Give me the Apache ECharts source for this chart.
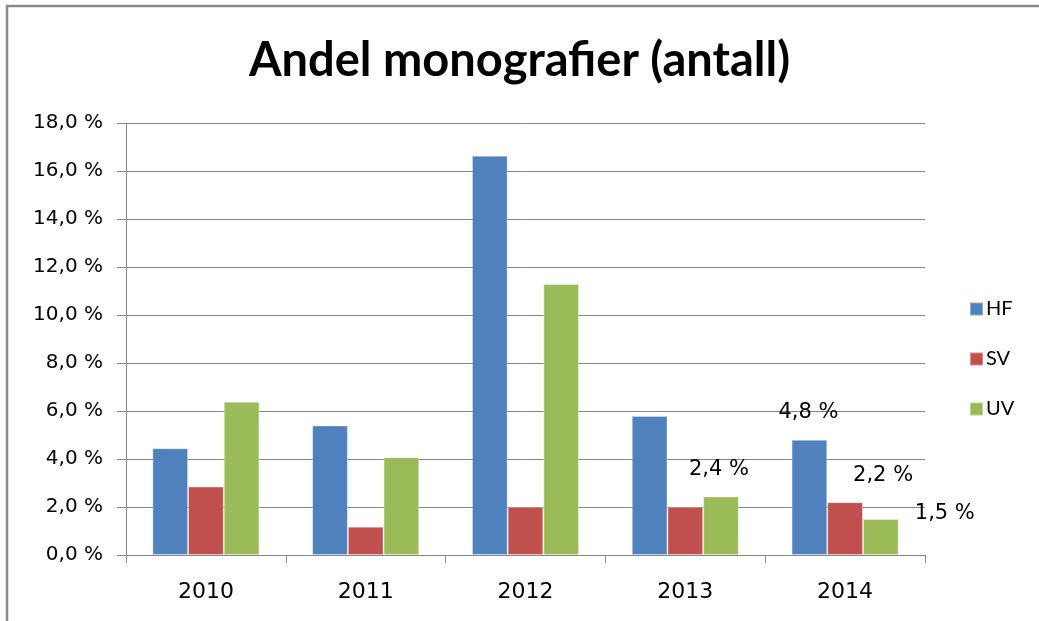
<!DOCTYPE html>
<html>
<head>
<meta charset="utf-8">
<script src="https://cdn.jsdelivr.net/npm/echarts@6/dist/echarts.min.js"></script>
<style>html,body{margin:0;padding:0;background:#fff;}#c{width:1039px;height:621px;}</style>
</head>
<body>
<div id="c"></div>
<script>
var categories = ['2010', '2011', '2012', '2013', '2014'];
var hf = [4.45, 5.40, 16.64, 5.79, 4.8];
var sv = [2.85, 1.18, 2.01, 2.01, 2.2];
var uv = [6.39, 4.07, 11.29, 2.44, 1.5];
var seriesNames = ['HF', 'SV', 'UV'];
var yTicks = { min: 0, max: 18, interval: 2 };

// which bars carry a data label (series name -> category index -> label offset)
var labelPlacement = {
  HF: { 4: [-1, -12] },
  SV: { 4: [38, -11] },
  UV: { 3: [-2, -11], 4: [64, 10] }
};

var colors = { HF: '#4F81BD', SV: '#C0504D', UV: '#9BBB59' };
var numFont = 'DejaVu Sans';
function fmt(v) { return v.toFixed(1).replace('.', ',') + ' %'; }

function buildData(name, values) {
  return values.map(function (v, i) {
    var p = labelPlacement[name] && labelPlacement[name][i];
    if (!p) return v;
    return {
      value: v,
      label: {
        show: true, position: 'top', offset: p,
        formatter: function (d) { return fmt(d.value); },
        color: '#000', fontFamily: numFont, fontSize: 21
      }
    };
  });
}

var allValues = { HF: hf, SV: sv, UV: uv };
var chart = echarts.init(document.getElementById('c'));
chart.setOption({
  animation: false,
  backgroundColor: '#fff',
  title: {
    text: 'Andel monografier (antall)',
    left: 'center', top: 32,
    textStyle: { fontFamily: 'Lato', fontWeight: 'bold', fontSize: 47, color: '#000' }
  },
  graphic: [{
    type: 'rect', shape: { x: 7, y: 6, width: 1200, height: 800 },
    style: { fill: 'none', stroke: '#8a8a8a', lineWidth: 2.5 }, z: 100
  }],
  legend: {
    orient: 'vertical', left: 964, top: 294,
    itemWidth: 13, itemHeight: 13, itemGap: 30,
    icon: 'rect',
    textStyle: { fontFamily: 'Lato', fontSize: 20, color: '#000', padding: [0, 0, 0, -2] },
    data: seriesNames
  },
  grid: { left: 126, right: 114, top: 123, bottom: 66, containLabel: false },
  xAxis: {
    type: 'category', data: categories,
    axisLine: { lineStyle: { color: '#868686', width: 1 } },
    axisTick: { show: true, length: 8, lineStyle: { color: '#868686' } },
    axisLabel: { color: '#000', fontFamily: numFont, fontSize: 22, margin: 26 }
  },
  yAxis: {
    type: 'value', min: yTicks.min, max: yTicks.max, interval: yTicks.interval,
    axisLine: { show: true, lineStyle: { color: '#868686', width: 1 } },
    axisTick: { show: true, length: 9, lineStyle: { color: '#868686' } },
    splitLine: { lineStyle: { color: '#868686', width: 1 } },
    axisLabel: { color: '#000', fontFamily: numFont, fontSize: 20, margin: 23, formatter: fmt }
  },
  series: seriesNames.map(function (n) {
    return {
      name: n, type: 'bar', barGap: '0%', barCategoryGap: '33%',
      itemStyle: { color: colors[n], borderColor: 'rgba(255,255,255,0.35)', borderWidth: 1 },
      data: buildData(n, allValues[n])
    };
  })
});
</script>
</body>
</html>
